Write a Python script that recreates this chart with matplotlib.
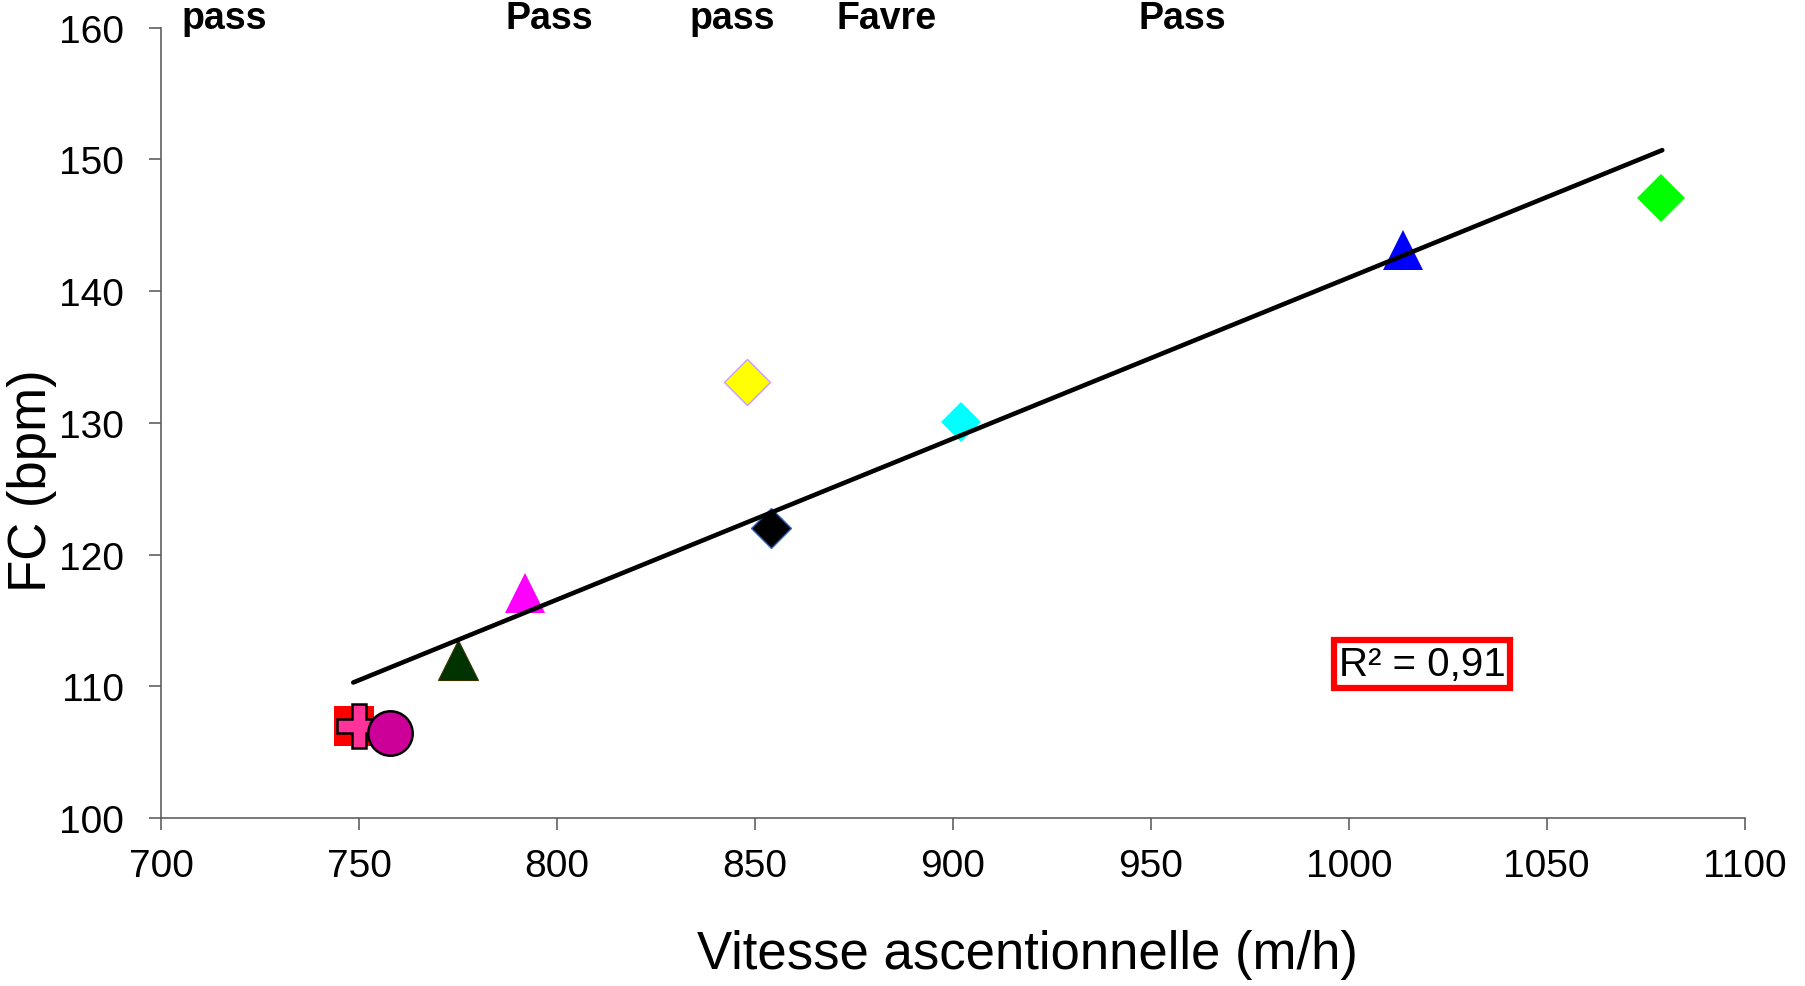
import matplotlib
matplotlib.use("Agg")
import matplotlib.pyplot as plt
from matplotlib.transforms import blended_transform_factory

plt.rcParams['font.family'] = ['Liberation Sans', 'DejaVu Sans']

# ---- data ----
speed = [748.8, 750.0, 757.8, 775.0, 792.0, 854.0, 848.0, 902.0, 1013.6, 1079.0]
hr = [107.0, 107.0, 106.5, 112.0, 117.1, 122.0, 133.1, 130.1, 143.1, 147.1]
markers = ['s', 'P', 'o', '^', '^', 'D', 'D', 'D', '^', 'D']
face_colors = ['#FF0000', '#FF3399', '#CC0099', '#003300', '#FF00FF',
               '#000000', '#FFFF00', '#00FFFF', '#0000FF', '#00FF00']
edge_colors = ['#FF0000', '#000000', '#000000', '#333300', '#FF00FF',
               '#3366CC', '#CC99FF', '#00FFFF', '#0000FF', '#00FF00']
marker_sizes = [29.5, 32, 32, 28.8, 29.3, 20, 23, 20.4, 29.5, 24]
edge_widths = [0, 1.8, 1.8, 0.8, 0, 1.0, 1.0, 0, 0, 0]

trend_x = [748.5, 1079.2]
trend_y = [110.3, 150.7]
r2_label = "R² = 0,91"

top_labels = ["pass", "Pass", "pass", "Favre", "Pass"]
top_label_x = [716.0, 798.0, 844.3, 883.3, 958.0]

x_ticks = [700, 750, 800, 850, 900, 950, 1000, 1050, 1100]
y_ticks = [100, 110, 120, 130, 140, 150, 160]

# ---- figure ----
fig = plt.figure(figsize=(18.06, 9.87), dpi=100)
ax = fig.add_axes([0.0893, 0.170, 0.8767, 0.801])

for x, y, m, fc, ec, ms, ew in zip(speed, hr, markers, face_colors, edge_colors,
                                   marker_sizes, edge_widths):
    ax.plot([x], [y], linestyle='none', marker=m, markersize=ms,
            markerfacecolor=fc, markeredgecolor=ec, markeredgewidth=ew, zorder=3)

ax.plot(trend_x, trend_y, color='black', linewidth=3.3, solid_capstyle='round', zorder=4)

ax.set_xlim(700, 1100)
ax.set_ylim(100, 160)
ax.set_xticks(x_ticks)
ax.set_yticks(y_ticks)
ax.tick_params(axis='both', direction='out', length=8.6, width=1.2, color='#606060',
               labelsize=28)
ax.tick_params(axis='y', pad=18)
ax.tick_params(axis='x', pad=13)
for side in ['top', 'right']:
    ax.spines[side].set_visible(False)
for side in ['left', 'bottom']:
    ax.spines[side].set_color('#606060')
    ax.spines[side].set_linewidth(1.2)

ax.set_xlabel("Vitesse ascentionnelle (m/h)", fontsize=38)
ax.set_ylabel("FC (bpm)", fontsize=38)
ax.xaxis.set_label_coords(0.547, -0.140)
ax.yaxis.set_label_coords(-0.066, 0.4288)

ax.text(1018.5, 111.7, r2_label, fontsize=29, ha='center', va='center', zorder=5,
        bbox=dict(boxstyle='square,pad=0.12', facecolor='white', edgecolor='#FF0000',
                  linewidth=4.5))

trans = blended_transform_factory(ax.transData, fig.transFigure)
for lab, lx in zip(top_labels, top_label_x):
    ax.text(lx, 1 - 29 / 987, lab, transform=trans, fontsize=27, fontweight='bold',
            ha='center', va='baseline', clip_on=False)

fig.savefig("out.png", dpi=100)
